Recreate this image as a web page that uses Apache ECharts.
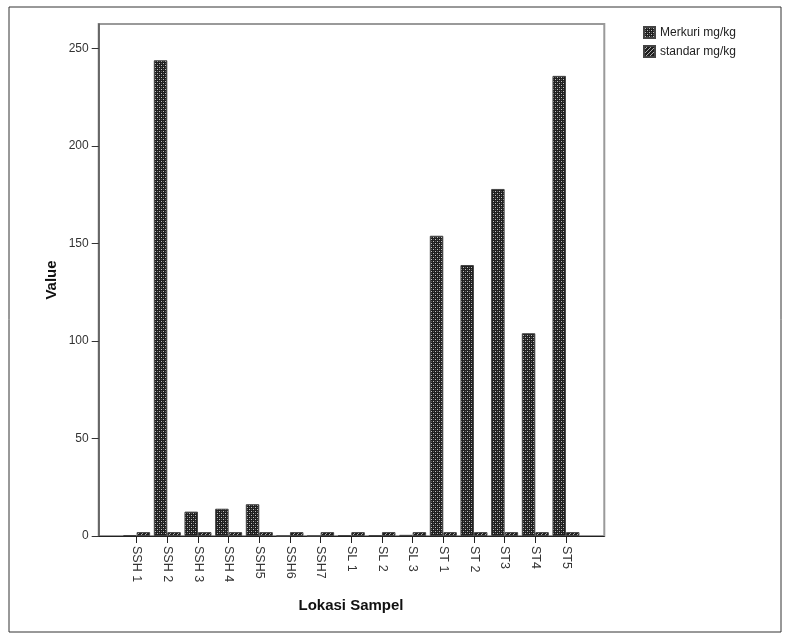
<!DOCTYPE html>
<html>
<head>
<meta charset="utf-8">
<script src="https://cdn.jsdelivr.net/npm/echarts@6/dist/echarts.min.js"></script>
<style>
html,body{margin:0;padding:0;background:#fff;}
#chart{width:791px;height:639px;}
</style>
</head>
<body>
<div id="chart"></div>
<script>
const categories = ['SSH 1','SSH 2','SSH 3','SSH 4','SSH5','SSH6','SSH7','SL 1','SL 2','SL 3','ST 1','ST 2','ST3','ST4','ST5'];
const merkuri = [0.5, 244, 12.5, 14, 16.3, 0, 0, 0.5, 0.4, 0.6, 154, 139, 178, 104, 236];
const standar = [2, 2, 2, 2, 2, 2, 2, 2, 2, 2, 2, 2, 2, 2, 2];
const seriesNames = ['Merkuri mg/kg', 'standar mg/kg'];
const yTicks = [0, 50, 100, 150, 200, 250];
const yMax = 262.6;

function makePattern(kind) {
  const c = document.createElement('canvas');
  c.width = 4; c.height = 4;
  const g = c.getContext('2d');
  g.fillStyle = '#1f1f1f';
  g.fillRect(0, 0, 4, 4);
  if (kind === 'check') {
    g.fillStyle = '#c0c0c0';
    g.fillRect(1, 1, 1, 1); g.fillRect(3, 3, 1, 1);
    g.fillStyle = '#5a5a5a';
    g.fillRect(1, 3, 1, 1); g.fillRect(3, 1, 1, 1);
  } else {
    g.fillStyle = '#b0b0b0';
    g.fillRect(3, 0, 1, 1); g.fillRect(2, 1, 1, 1); g.fillRect(1, 2, 1, 1); g.fillRect(0, 3, 1, 1);
  }
  return c;
}

const FONT = "'Liberation Sans', Arial, sans-serif";
const chart = echarts.init(document.getElementById('chart'), null, {renderer: 'canvas'});

const option = {
  animation: false,
  backgroundColor: '#fff',
  textStyle: {fontFamily: FONT},
  legend: {
    data: seriesNames,
    orient: 'vertical',
    left: 643, top: 26,
    itemWidth: 11, itemHeight: 11, itemGap: 6,
    padding: 0,
    icon: 'rect',
    textStyle: {fontSize: 12, color: '#222', fontFamily: FONT}
  },
  grid: [
    {left: 98.7, top: 24, width: 505.6, height: 512, show: true, borderColor: '#9a9a9a', borderWidth: 2, backgroundColor: 'transparent'},
    {left: 121.3, top: 24, width: 460, height: 512}
  ],
  xAxis: [
    {gridIndex: 0, type: 'value', min: 0, max: 1,
     axisLine: {show: true, onZero: false, lineStyle: {color: '#222', width: 1}},
     axisTick: {show: false}, axisLabel: {show: false}, splitLine: {show: false}},
    {gridIndex: 1, type: 'category', data: categories,
     axisLine: {show: false},
     axisTick: {show: true, alignWithLabel: true, length: 7, lineStyle: {color: '#222'}},
     axisLabel: {rotate: -90, margin: 10, fontSize: 12.5, color: '#333', interval: 0, fontFamily: FONT},
     splitLine: {show: false}}
  ],
  yAxis: [
    {gridIndex: 0, type: 'value', min: 0, max: yMax, interval: 50,
     axisLine: {show: true, lineStyle: {color: '#555', width: 1.5}},
     axisTick: {show: true, length: 7, customValues: yTicks, lineStyle: {color: '#333'}},
     axisLabel: {customValues: yTicks, margin: 10, fontSize: 12, color: '#333', fontFamily: FONT},
     splitLine: {show: false}},
    {gridIndex: 1, type: 'value', min: 0, max: yMax, show: false}
  ],
  series: [
    {name: seriesNames[0], type: 'bar', xAxisIndex: 1, yAxisIndex: 1, data: merkuri,
     barWidth: 13.5, barGap: '0%',
     itemStyle: {color: {image: makePattern('check'), repeat: 'repeat'}, borderColor: '#444', borderWidth: 1}},
    {name: seriesNames[1], type: 'bar', xAxisIndex: 1, yAxisIndex: 1, data: standar,
     barWidth: 13.5, barGap: '0%',
     itemStyle: {color: {image: makePattern('hatch'), repeat: 'repeat'}, borderColor: '#444', borderWidth: 1}}
  ],
  graphic: [
    {type: 'rect', shape: {x: 9, y: 7, width: 772, height: 625}, style: {fill: 'none', stroke: '#333', lineWidth: 1}, silent: true, z: -1},
    {type: 'text', x: 52, y: 280, rotation: Math.PI / 2,
     style: {text: 'Value', font: 'bold 15px ' + FONT, fill: '#111', textAlign: 'center', textVerticalAlign: 'middle'}},
    {type: 'text', x: 351, y: 606,
     style: {text: 'Lokasi Sampel', font: 'bold 15px ' + FONT, fill: '#111', textAlign: 'center', textVerticalAlign: 'middle'}}
  ]
};
chart.setOption(option);
</script>
</body>
</html>
